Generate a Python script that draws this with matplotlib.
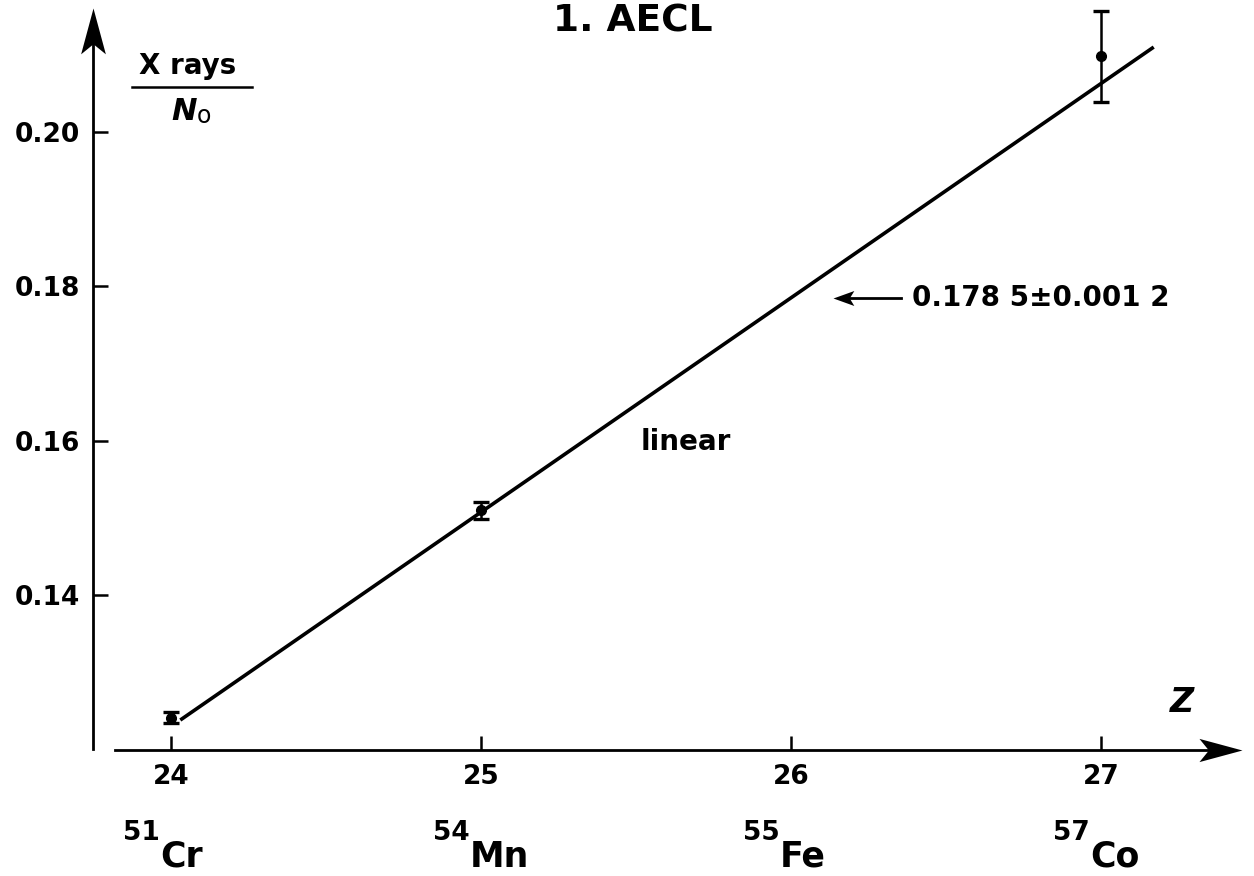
import numpy as np
import matplotlib
matplotlib.use('Agg')
import matplotlib.pyplot as plt
from matplotlib.path import Path

# measured points (Z, X rays / N0, error)
z = [24, 25, 27]
ratio = [0.1241, 0.1510, 0.2098]
err = [0.0007, 0.0011, 0.0059]

# straight line drawn through the points
fit_z = [24.03, 27.17]
fit_y = [0.1238, 0.2110]

# interpolated value for Fe
fe_z = 26
fe_val = 0.1785
fe_label = '0.178 5\u00b10.001 2'

xticks = [24, 25, 26, 27]
yticks = [0.14, 0.16, 0.18, 0.20]
mass = ['51', '54', '55', '57']
elem = ['Cr', 'Mn', 'Fe', 'Co']

plt.rcParams['font.family'] = ['DejaVu Sans']
plt.rcParams['font.weight'] = 'bold'


def barb(angle, w=0.27):
    # arrow head with a hollow back, tip at (0, 0), pointing along angle
    v = np.array([[0, 0], [-1, w], [-0.78, 0], [-1, -w], [0, 0]])
    c, s = np.cos(np.radians(angle)), np.sin(np.radians(angle))
    v = v @ np.array([[c, s], [-s, c]])
    return Path(v, [Path.MOVETO, Path.LINETO, Path.LINETO, Path.LINETO, Path.CLOSEPOLY])


fig = plt.figure(figsize=(12.54, 8.76), dpi=100)
ax = fig.add_axes([0, 0, 1, 1])
ax.set_xlim(23.4484, 27.4935)
ax.set_ylim(0.10359, 0.2171)
ax.patch.set_visible(False)

x0 = 23.748   # where the y axis sits
y0 = 0.1199   # where the z axis sits

for s in ['top', 'right']:
    ax.spines[s].set_visible(False)
ax.spines['left'].set_position(('data', x0))
ax.spines['left'].set_bounds(0.1200, 0.2140)
ax.spines['bottom'].set_position(('data', y0))
ax.spines['bottom'].set_bounds(23.819, 27.43)
ax.spines['left'].set_linewidth(2)
ax.spines['bottom'].set_linewidth(2)

# arrow heads on the axes
ax.plot([x0], [0.2160], marker=barb(90), ms=66, color='k', mew=0, clip_on=False)
ax.plot([27.455], [y0], marker=barb(0), ms=62, color='k', mew=0, clip_on=False)

ax.set_xticks(xticks)
ax.set_xticklabels([str(t) for t in xticks])
ax.set_yticks(yticks)
ax.set_yticklabels(['%.2f' % t for t in yticks])
ax.tick_params(axis='x', direction='in', length=10, width=1.8, pad=10, labelsize=19)
ax.tick_params(axis='y', direction='in', length=11, width=1.8, pad=9, labelsize=19)

ax.plot(fit_z, fit_y, color='k', lw=2.6, solid_capstyle='butt')
ax.errorbar(z, ratio, yerr=err, fmt='o', color='k', ms=7, elinewidth=1.8,
            capsize=6, capthick=2.4)

# pointer to the interpolated Fe value
tip = fe_z + 0.135
ax.plot([tip + 0.02, 26.355], [fe_val, fe_val], color='k', lw=2)
ax.plot([tip], [fe_val], marker=barb(180, 0.36), ms=30, color='k', mew=0)
ax.text(26.39, fe_val, fe_label, ha='left', va='center', fontsize=20, fontweight='bold')

ax.text(25.661, 0.1598, 'linear', ha='center', va='center', fontsize=20, fontweight='bold')
ax.text(25.49, 0.2143, '1. AECL', ha='center', va='center', fontsize=27, fontweight='bold')
ax.text(27.26, 0.1261, 'Z', ha='center', va='center', fontsize=24,
        fontweight='bold', fontstyle='italic')

# y label as a fraction
ax.text(24.055, 0.2086, 'X rays', ha='center', va='center', fontsize=20, fontweight='bold')
ax.plot([23.874, 24.261], [0.2058, 0.2058], color='k', lw=1.8)
ax.text(24.084, 0.2026, 'N', ha='right', va='center', fontsize=22,
        fontweight='bold', fontstyle='italic')
ax.annotate('o', xy=(24.084, 0.2026), xytext=(0, -3), textcoords='offset points',
            ha='left', va='center', fontsize=17, fontweight='normal')

# isotope names under the Z ticks
for zi, m, e in zip(xticks, mass, elem):
    ax.annotate(m, xy=(zi, y0), xytext=(-8, -65), textcoords='offset points',
                ha='right', va='baseline', fontsize=19, fontweight='bold')
    ax.annotate(e, xy=(zi, y0), xytext=(-8, -84), textcoords='offset points',
                ha='left', va='baseline', fontsize=25, fontweight='bold')

fig.savefig('out.png', dpi=100)
